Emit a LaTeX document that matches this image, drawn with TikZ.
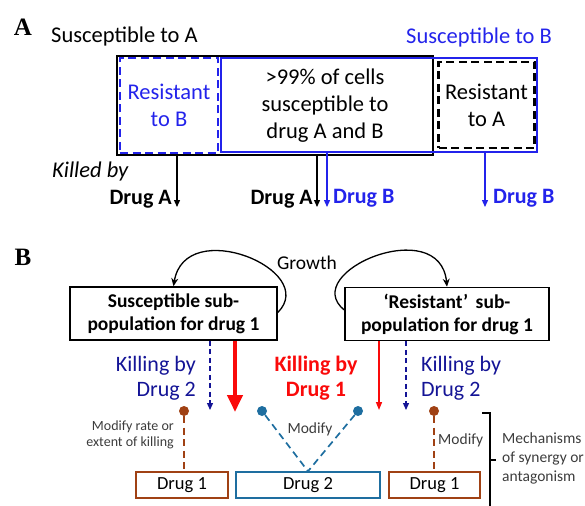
\documentclass[tikz,border=0pt]{standalone}
\usepackage{fontspec}
\setmainfont{Carlito}
\newfontfamily\panelfont{Liberation Serif}
\usetikzlibrary{arrows.meta}
\definecolor{blueA}{RGB}{35,35,235}
\definecolor{navyB}{RGB}{20,20,150}
\definecolor{redB}{RGB}{250,10,10}
\definecolor{brownB}{RGB}{160,65,20}
\definecolor{tealB}{RGB}{30,110,160}
\definecolor{grayT}{RGB}{60,60,60}
\tikzset{
  panel/.style={font=\panelfont\bfseries\fontsize{25}{25}\selectfont, inner sep=0},
  txtA/.style={font=\fontsize{22.5}{27}\selectfont, align=center, inner sep=0},
  boldA/.style={font=\bfseries\fontsize{22}{27}\selectfont, inner sep=0},
  boxA/.style={draw, line width=2.2pt, inner sep=0},
  dboxA/.style={draw, line width=2.2pt, inner sep=0, dash pattern=on 8pt off 4.5pt},
  arrA/.style={line width=1.3pt, -{Triangle[length=7pt,width=6pt]}},
  popbox/.style={draw, line width=1.6pt, inner sep=0, minimum width=207pt, minimum height=53pt,
     font=\bfseries\fontsize{19.5}{23}\selectfont, align=center},
  killtxt/.style={font=\fontsize{22}{25}\selectfont, inner sep=0},
  dasharr/.style={navyB, line width=1.3pt, dash pattern=on 5pt off 3.5pt, -{Triangle[length=7pt,width=6pt]}},
  redarr/.style={redB, line width=1.4pt, -{Triangle[length=8pt,width=6pt]}},
  drugbox/.style={draw, line width=1.5pt, inner sep=0, minimum height=26pt, font=\fontsize{18.5}{20}\selectfont},
  lolli/.style={circle, fill, inner sep=0, minimum size=10pt},
  modline/.style={line width=1.7pt, dash pattern=on 7pt off 4.5pt},
  smalltxt/.style={text=grayT, inner sep=0},
}
\begin{document}
\begin{tikzpicture}[x=1pt,y=-1pt]
\useasboundingbox (0,0) rectangle (585,505);

% ---------- Panel A ----------
\node[panel] (pA) at (23,27) {A};
\node[txtA, anchor=west] (sA) at (51,37) {Susceptible to A};
\node[txtA, anchor=west, text=blueA] (sB) at (406,38) {Susceptible to B};

\node[boxA, minimum width=316pt, minimum height=99pt] (ob) at (275,105.5) {};
\node[boxA, draw=blueA, minimum width=316pt, minimum height=94pt] (bb) at (379,105) {};
\node[dboxA, draw=blueA, minimum width=98pt, minimum height=95pt, txtA, text=blueA] (rb) at (169,105.5) {Resistant\\to B};
\node[dboxA, minimum width=96pt, minimum height=86pt, txtA] (ra) at (486.5,105) {Resistant\\to A};
\node[txtA] (mid) at (325,106) {>99\% of cells\\susceptible to\\drug A and B};

\node[txtA, anchor=west, font=\itshape\fontsize{22.5}{27}\selectfont] (kb) at (52,172) {Killed by};

\coordinate (a1) at (177,207);
\coordinate (a2) at (317,207);
\coordinate (a3) at (327,207);
\coordinate (a4) at (485,207);
\draw[arrA] (a1 |- ob.south) -- (a1);
\draw[arrA] (a2 |- ob.south) -- (a2);
\draw[arrA, blueA] (a3 |- bb.south) -- (a3);
\draw[arrA, blueA] (a4 |- bb.south) -- (a4);

\node[boldA, anchor=east] (dA1) at (172,199) {Drug A};
\node[boldA, anchor=east] (dA2) at (313,199) {Drug A};
\node[boldA, anchor=west, text=blueA] (dB1) at (333,198) {Drug B};
\node[boldA, anchor=west, text=blueA] (dB2) at (493,198) {Drug B};

% ---------- Panel B ----------
\node[panel] (pB) at (23,257) {B};
\node[popbox] (ls) at (173.5,313.5) {Susceptible sub-\\population for drug 1};
\node[popbox, minimum width=204pt] (rs) at (447,314) {‘Resistant’\, sub-\\population for drug 1};

\draw[line width=1.3pt, -{Stealth[length=8pt,width=7pt]}]
  ([yshift=1pt]ls.east) .. controls (320,270) and (185,215) .. (ls.north);
\draw[line width=1.3pt, -{Stealth[length=8pt,width=7pt]}]
  ([yshift=4pt]rs.west) .. controls (298,272) and (440,213) .. (rs.north);
\node[font=\fontsize{19.5}{20}\selectfont, inner sep=0] (gr) at (307,263) {Growth};

\coordinate (k1) at (210,410);
\coordinate (k2) at (235,412);
\coordinate (k3) at (379,410);
\coordinate (k4) at (406,410);
\draw[dasharr] (k1 |- ls.south) -- (k1);
\draw[redB, line width=4pt, -{Triangle[length=17pt,width=15pt]}] (k2 |- ls.south) -- (k2);
\draw[redarr] (k3 |- rs.south) -- (k3);
\draw[dasharr] (k4 |- rs.south) -- (k4);

\node[killtxt, text=navyB, align=right, anchor=east] (kl) at (196,378) {Killing by\\Drug 2};
\node[killtxt, text=redB, align=center, font=\bfseries\fontsize{22}{25}\selectfont] (kc) at (316,378) {Killing by\\Drug 1};
\node[killtxt, text=navyB, align=left, anchor=west] (kr) at (421,378) {Killing by\\Drug 2};

\node[drugbox, draw=brownB, minimum width=92pt] (d1l) at (182,485) {Drug 1};
\node[drugbox, draw=tealB, minimum width=144pt] (d2) at (308,485) {Drug 2};
\node[drugbox, draw=brownB, minimum width=91pt] (d1r) at (434.5,485) {Drug 1};

\node[lolli, brownB] (c1) at (184,411) {};
\node[lolli, tealB] (c2) at (262,411) {};
\node[lolli, tealB] (c3) at (358,411) {};
\node[lolli, brownB] (c4) at (434,411) {};

\draw[modline, brownB] (c1) -- (c1 |- d1l.north);
\draw[modline, tealB] (c2) -- (d2.north);
\draw[modline, tealB] (c3) -- (d2.north);
\draw[modline, brownB] (c4) -- (c4 |- d1r.north);

\node[smalltxt, font=\fontsize{14}{16.5}\selectfont, align=right, anchor=east] (m1) at (174,435) {Modify rate or\\extent of killing};
\node[smalltxt, font=\fontsize{15.5}{16}\selectfont] (m2) at (310,429) {Modify};
\node[smalltxt, font=\fontsize{15.5}{16}\selectfont, anchor=west] (m3) at (438,440) {Modify};

\coordinate (br1) at (482,413);
\coordinate (br2) at (490,413);
\coordinate (br3) at (490,512);
\coordinate (br4) at (490,460);
\coordinate (br5) at (496,460);
\draw[line width=1.3pt] (br1) -- (br2) -- (br3);
\draw[line width=1.3pt] (br4) -- (br5);
\node[smalltxt, font=\fontsize{15.5}{19}\selectfont, align=left, anchor=west] (mech) at (502,458) {Mechanisms\\of synergy or\\antagonism};
\end{tikzpicture}
\end{document}
